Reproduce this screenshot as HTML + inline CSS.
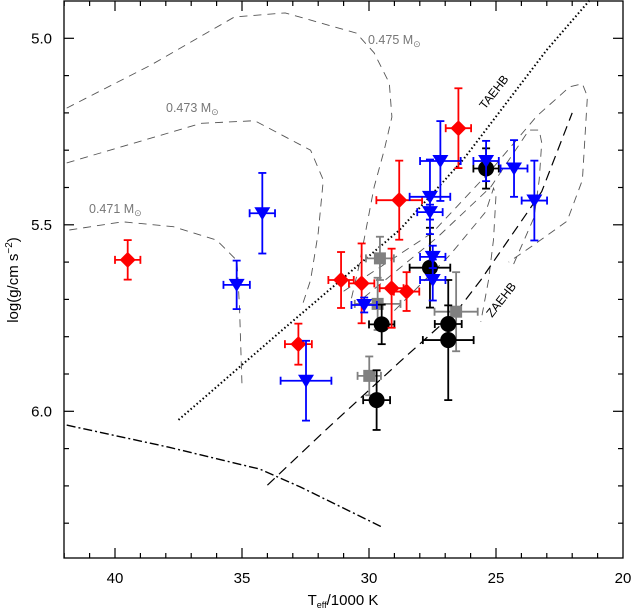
<!DOCTYPE html>
<html><head><meta charset="utf-8"><style>
html,body{margin:0;padding:0;background:#fff;}
svg{display:block;font-family:"Liberation Sans",sans-serif;}
</style></head><body>
<svg id="chart" width="634" height="611" viewBox="0 0 634 611" xmlns="http://www.w3.org/2000/svg">
<rect x="64" y="1" width="559" height="557" fill="none" stroke="#000" stroke-width="1.3"/>
<g id="ticks"></g>
<g id="curves"></g>
<g id="points"></g>
<g id="labels"></g>
<text x="343" y="605" font-size="15" text-anchor="middle">T<tspan font-size="9" dy="3">eff</tspan><tspan dy="-3">/1000 K</tspan></text>
<text transform="translate(18,280) rotate(-90)" font-size="15" text-anchor="middle">log(g/cm s<tspan font-size="10" dy="-6">−2</tspan><tspan dy="6">)</tspan></text>
<text x="368" y="44" font-size="12.5" fill="#777">0.475 M<tspan font-size="9" dy="3">⊙</tspan></text>
<text x="166" y="112" font-size="12.5" fill="#777">0.473 M<tspan font-size="9" dy="3">⊙</tspan></text>
<text x="89" y="213" font-size="12.5" fill="#777">0.471 M<tspan font-size="9" dy="3">⊙</tspan></text>
<text transform="translate(485,110) rotate(-52)" font-size="12" fill="#000">TAEHB</text>
<text transform="translate(492,318) rotate(-52)" font-size="12" fill="#000">ZAEHB</text>
</svg>
<script>
// data (Teff in kK, log g, errors)
const redT=[39.50,32.78,31.10,30.29,29.11,28.52,28.81,26.48];
const redG=[5.594,5.820,5.648,5.657,5.670,5.679,5.434,5.241];
const redTe=[0.5,0.53,0.5,0.5,0.47,0.5,0.9,0.5];
const redGe=[0.053,0.055,0.075,0.107,0.106,0.052,0.106,0.107];
const blueT=[35.21,34.20,32.48,30.19,27.49,27.49,27.60,27.60,27.19,25.39,24.29,23.49];
const blueG=[5.661,5.469,5.918,5.715,5.586,5.648,5.466,5.425,5.329,5.329,5.349,5.435];
const blueTe=[0.52,0.5,1.0,0.5,0.5,0.5,0.5,0.8,0.8,0.5,0.53,0.5];
const blueGe=[0.065,0.108,0.107,0.02,0.03,0.055,0.02,0.1,0.107,0.054,0.076,0.107];
const blackT=[25.39,27.60,29.50,26.88,26.88,29.70];
const blackG=[5.349,5.615,5.767,5.766,5.809,5.970];
const blackTe=[0.5,0.8,0.5,0.53,1.0,0.53];
const blackGe=[0.054,0.107,0.053,0.05,0.161,0.08];
const grayT=[29.57,29.66,29.99,26.57];
const grayG=[5.590,5.712,5.905,5.733];
const grayTe=[0.55,0.9,0.46,0.85];
const grayGe=[0.058,0.07,0.052,0.106];
const xMajor=[40,35,30,25,20];
const yMajor=[5.0,5.5,6.0];
// model curves
const t475T=[41.9,38.6,35.3,33.3,30.5,29.8,29.2,29.1,29.4,29.8,30.1,30.4,30.7];
const t475G=[5.187,5.072,4.943,4.932,4.986,5.039,5.120,5.211,5.300,5.399,5.506,5.613,5.700];
const t473T=[41.9,36.6,34.5,32.3,31.8,32.0,32.3,32.6];
const t473G=[5.334,5.228,5.221,5.300,5.380,5.522,5.648,5.710];
const t471T=[41.8,39.7,37.7,36.0,35.3,35.2,35.1,35.0];
const t471G=[5.514,5.492,5.505,5.541,5.589,5.594,5.720,5.930];
const loop1T=[31.0,27.5,25.2,23.4,22.1,21.6,21.4,21.6,22.2,23.6,24.5];
const loop1G=[5.678,5.521,5.354,5.209,5.130,5.122,5.156,5.380,5.490,5.558,5.600];
const loop2T=[30.2,27.3,25.2,23.7,23.3,23.2,23.3,23.5,24.4];
const loop2G=[5.695,5.533,5.398,5.246,5.246,5.280,5.380,5.480,5.620];
const loop3T=[29.0,26.8,25.4,25.1,25.0,25.1,25.3,25.6];
const loop3G=[5.730,5.580,5.465,5.402,5.421,5.540,5.650,5.760];
const taehbT=[37.5,33.5,28.8,26.3,23.0,21.3];
const taehbG=[6.023,5.787,5.514,5.326,5.031,4.897];
const zaehbT=[34.0,31.7,28.8,26.5,25.6,23.2,22.0];
const zaehbG=[6.198,6.050,5.868,5.728,5.648,5.411,5.200];
const ddT=[41.9,37.9,34.3,32.7,29.5];
const ddG=[6.037,6.096,6.155,6.203,6.310];

const NS='http://www.w3.org/2000/svg';
function X(t){return 623-(t-20)*25.4;}
function Y(g){return 38.3+(g-5)*373;}
function mk(tag,attrs,parent){const e=document.createElementNS(NS,tag);for(const k in attrs)e.setAttribute(k,attrs[k]);parent.appendChild(e);return e;}
const ticks=document.getElementById('ticks');
for(let t=21;t<=42;t++){
  const x=X(t);const maj=(t%5===0);const L=maj?10:5;
  let l=mk('line',{x1:x,x2:x,y1:558,y2:558-L,stroke:'#000','stroke-width':1.2},ticks);
  
  
  l=mk('line',{x1:x,x2:x,y1:1,y2:1+L,stroke:'#000','stroke-width':1.2},ticks);
  
  
}
for(let i=0;i<=14;i++){
  const g=4.9+i*0.1;const y=Y(g);if(y<2||y>557)continue;
  const maj=(i%5===1);const L=maj?10:5;
  let l=mk('line',{x1:64,x2:64+L,y1:y,y2:y,stroke:'#000','stroke-width':1.2},ticks);
  
  
  l=mk('line',{x1:623,x2:623-L,y1:y,y2:y,stroke:'#000','stroke-width':1.2},ticks);
  
  
}
const labels=document.getElementById('labels');
xMajor.forEach(v=>{const t=mk('text',{x:X(v),y:583,'font-size':15,'text-anchor':'middle'},labels);t.textContent=String(v);
  
  });
yMajor.forEach(v=>{const t=mk('text',{x:52,y:Y(v)+5,'font-size':15,'text-anchor':'end'},labels);t.textContent=v.toFixed(1);
  
  });
const curves=document.getElementById('curves');
function path(Ts,Gs,style,name){
  const d=Ts.map((t,i)=>(i?'L':'M')+X(t).toFixed(1)+' '+Y(Gs[i]).toFixed(1)).join(' ');
  const p=mk('path',Object.assign({d:d,fill:'none'},style),curves);
  
  
}
const gd={stroke:'#555','stroke-width':0.9,'stroke-dasharray':'8 6'};
path(t475T,t475G,gd,'track-0475');
path(t473T,t473G,gd,'track-0473');
path(t471T,t471G,gd,'track-0471');
path(loop1T,loop1G,gd,'track-loop-outer');
path(loop2T,loop2G,gd,'track-loop-middle');
path(loop3T,loop3G,gd,'track-loop-inner');
path(taehbT,taehbG,{stroke:'#000','stroke-width':2,'stroke-dasharray':'1.5 2.5'},'taehb-line');
path(zaehbT,zaehbG,{stroke:'#000','stroke-width':1.2,'stroke-dasharray':'10 6'},'zaehb-line');
path(ddT,ddG,{stroke:'#000','stroke-width':1.4,'stroke-dasharray':'9 3 2 3'},'dash-dot-line');

const pts=document.getElementById('points');
function errbar(x,y,ex,ey,col){
  const g=mk('g',{stroke:col,'stroke-width':1.8},pts);
  mk('line',{x1:x-ex,x2:x+ex,y1:y,y2:y},g);
  mk('line',{x1:x,x2:x,y1:y-ey,y2:y+ey},g);
  mk('line',{x1:x-ex,x2:x-ex,y1:y-4,y2:y+4},g);
  mk('line',{x1:x+ex,x2:x+ex,y1:y-4,y2:y+4},g);
  mk('line',{x1:x-4,x2:x+4,y1:y-ey,y2:y-ey},g);
  mk('line',{x1:x-4,x2:x+4,y1:y+ey,y2:y+ey},g);
  return g;
}
function series(Ts,Gs,Te,Ge,col,shape,name){
  Ts.forEach((t,i)=>{
    const x=X(t),y=Y(Gs[i]);
    const g=errbar(x,y,Te[i]*25.4,Ge[i]*373,col);
    
    
    if(shape==='diamond')mk('polygon',{points:`${x},${y-8} ${x+8},${y} ${x},${y+8} ${x-8},${y}`,fill:col,stroke:'none'},g);
    if(shape==='tri')mk('polygon',{points:`${x-8},${y-6} ${x+8},${y-6} ${x},${y+7}`,fill:col,stroke:'none'},g);
    if(shape==='circle')mk('circle',{cx:x,cy:y,r:8,fill:col,stroke:'none'},g);
    if(shape==='square')mk('rect',{x:x-6,y:y-6,width:12,height:12,fill:col,stroke:'none'},g);
  });
}
series(grayT,grayG,grayTe,grayGe,'#808080','square','gray-square-point');
series(blackT,blackG,blackTe,blackGe,'#000','circle','black-circle-point');
series(redT,redG,redTe,redGe,'#ff0000','diamond','red-diamond-point');
series(blueT,blueG,blueTe,blueGe,'#0000ff','tri','blue-triangle-point');
</script>
</body></html>
